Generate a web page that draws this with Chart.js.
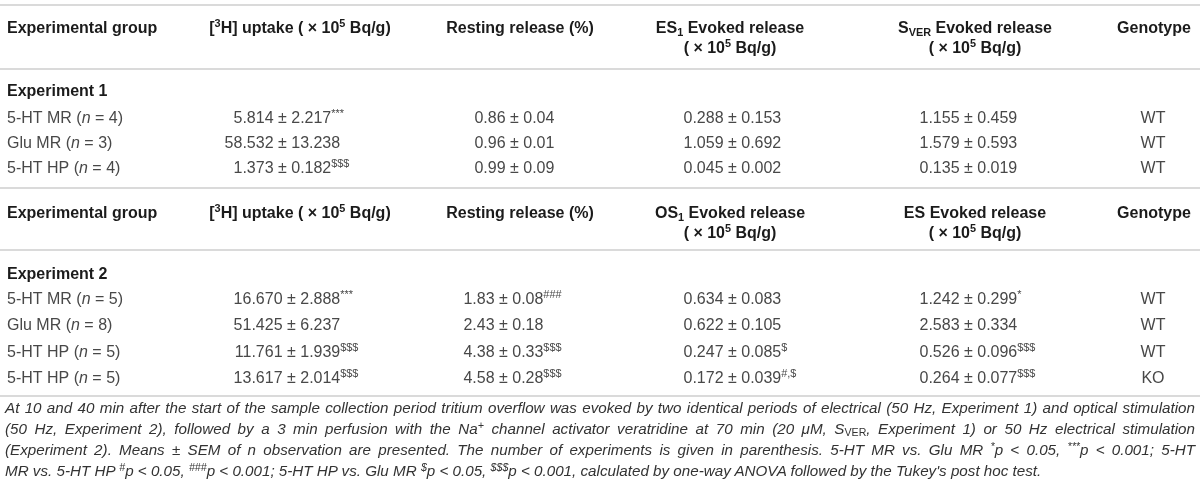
<!DOCTYPE html>
<html>
<head>
<meta charset="utf-8">
<script src="https://cdn.jsdelivr.net/npm/chart.js@4.4.1/dist/chart.umd.min.js"></script>
<style>
html, body { margin: 0; padding: 0; background: #fff; }
#wrap { position: relative; width: 1200px; height: 491px; overflow: hidden; }
#box { position: absolute; left: 0; top: 0; width: 1200px; height: 398px; }
#caption { position: absolute; left: 5px; top: 397px; width: 1190px;
  font-family: 'Liberation Sans', Arial, sans-serif; font-style: italic; font-size: 15.2px; color: #333; }
#caption div { height: 21px; line-height: 21px; text-align: justify; text-align-last: justify; }
#caption div.last { text-align-last: left; }
#caption sup { font-size: 70%; vertical-align: 0.45em; line-height: 0; }
#caption sub { font-size: 70%; vertical-align: -0.2em; line-height: 0; font-style: normal; }
</style>
</head>
<body>
<div id="wrap">
  <div id="box"><canvas id="myChart" width="1200" height="398"></canvas></div>
  <div id="caption">
    <div>At 10 and 40 min after the start of the sample collection period tritium overflow was evoked by two identical periods of electrical (50 Hz, Experiment 1) and optical stimulation</div>
    <div>(50 Hz, Experiment 2), followed by a 3 min perfusion with the Na<sup>+</sup> channel activator veratridine at 70 min (20 μM, S<sub>VER</sub>, Experiment 1) or 50 Hz electrical stimulation</div>
    <div>(Experiment 2). Means ± SEM of n observation are presented. The number of experiments is given in parenthesis. 5-HT MR vs. Glu MR <sup>*</sup>p &lt; 0.05, <sup>***</sup>p &lt; 0.001; 5-HT</div>
    <div class="last">MR vs. 5-HT HP <sup>#</sup>p &lt; 0.05, <sup>###</sup>p &lt; 0.001; 5-HT HP vs. Glu MR <sup>$</sup>p &lt; 0.05, <sup>$$$</sup>p &lt; 0.001, calculated by one-way ANOVA followed by the Tukey's post hoc test.</div>
  </div>
</div>
<script>
// table text ({^..} superscript, {_..} subscript, {/..} italic)
const sections = ['Experiment 1', 'Experiment 2'];
const headers1 = ['Experimental group', '[{^3}H] uptake ( × 10{^5} Bq/g)', 'Resting release (%)',
  'ES{_1} Evoked release\n( × 10{^5} Bq/g)', 'S{_VER} Evoked release\n( × 10{^5} Bq/g)', 'Genotype'];
const headers2 = ['Experimental group', '[{^3}H] uptake ( × 10{^5} Bq/g)', 'Resting release (%)',
  'OS{_1} Evoked release\n( × 10{^5} Bq/g)', 'ES Evoked release\n( × 10{^5} Bq/g)', 'Genotype'];

// experiment 1
const groups1 = ['5-HT MR ({/n} = 4)', 'Glu MR ({/n} = 3)', '5-HT HP ({/n} = 4)'];
const uptake1 = ['5.814 ± 2.217{^***}', '58.532 ± 13.238', '1.373 ± 0.182{^$$$}'];
const resting1 = ['0.86 ± 0.04', '0.96 ± 0.01', '0.99 ± 0.09'];
const es1Evoked1 = ['0.288 ± 0.153', '1.059 ± 0.692', '0.045 ± 0.002'];
const sverEvoked1 = ['1.155 ± 0.459', '1.579 ± 0.593', '0.135 ± 0.019'];
const genotype1 = ['WT', 'WT', 'WT'];

// experiment 2
const groups2 = ['5-HT MR ({/n} = 5)', 'Glu MR ({/n} = 8)', '5-HT HP ({/n} = 5)', '5-HT HP ({/n} = 5)'];
const uptake2 = ['16.670 ± 2.888{^***}', '51.425 ± 6.237', '11.761 ± 1.939{^$$$}', '13.617 ± 2.014{^$$$}'];
const resting2 = ['1.83 ± 0.08{^###}', '2.43 ± 0.18', '4.38 ± 0.33{^$$$}', '4.58 ± 0.28{^$$$}'];
const os1Evoked2 = ['0.634 ± 0.083', '0.622 ± 0.105', '0.247 ± 0.085{^$}', '0.172 ± 0.039{^#,$}'];
const esEvoked2 = ['1.242 ± 0.299{^*}', '2.583 ± 0.334', '0.526 ± 0.096{^$$$}', '0.264 ± 0.077{^$$$}'];
const genotype2 = ['WT', 'WT', 'WT', 'KO'];

// layout (scale units = px)
const HEAD_X = [7, 300, 520, 730, 975, 1154];
const HEAD_ALIGN = ['left', 'center', 'center', 'center', 'center', 'center'];
const HEAD_Y = [27, 212];
const SECTION_Y = [90, 273];
const ROWS1_Y = [117.5, 142.3, 167];
const ROWS2_Y = [298, 324.5, 351, 377.5];
const RULE_Y = [5, 69, 188, 250, 396];
const FONT = "'Liberation Sans', Arial, sans-serif";
const HEAD_STYLE = { bold: true, size: 16, color: '#1b1b1b', gap: 20 };
const BODY_STYLE = { bold: false, size: 16, color: '#484848', gap: 20 };

function parseRich(s){
    const out = [];
    let i = 0, buf = '';
    while(i < s.length){
        if(s[i] == '{' && '^_/'.indexOf(s[i+1]) >= 0){
            if(buf){ out.push({t: buf, m: ''}); buf = ''; }
            const end = s.indexOf('}', i);
            out.push({t: s.slice(i+2, end), m: s[i+1]});
            i = end + 1;
        }else{
            buf += s[i]; i++;
        }
    }
    if(buf) out.push({t: buf, m: ''});
    return out;
}

function segFont(seg, st){
    const small = seg.m == '^' || seg.m == '_';
    const sz = small ? st.size * 0.68 : st.size;
    return (seg.m == '/' ? 'italic ' : '') + (st.bold ? 'bold ' : '') + sz + 'px ' + FONT;
}

function drawRich(ctx, text, x, y, st, align){
    text.split('\n').forEach((line, k) => {
        const segs = parseRich(line);
        let total = 0;
        segs.forEach(sg => { ctx.font = segFont(sg, st); sg.w = ctx.measureText(sg.t).width; total += sg.w; });
        let x0 = x;
        if(align == 'center') x0 = x - total / 2;
        if(align == 'pm'){
            ctx.font = segFont({m: ''}, st);
            x0 = x - ctx.measureText(line.split('±')[0]).width;
        }
        const base = y + k * st.gap + st.size * 0.36;
        ctx.fillStyle = st.color;
        ctx.textBaseline = 'alphabetic';
        ctx.textAlign = 'left';
        segs.forEach(sg => {
            ctx.font = segFont(sg, st);
            let dy = 0;
            if(sg.m == '^') dy = -st.size * 0.38;
            if(sg.m == '_') dy = st.size * 0.22;
            ctx.fillText(sg.t, x0, base + dy);
            x0 += sg.w;
        });
    });
}

function cellSet(texts, colX, rowsY, style, align){
    return {
        data: texts.map((t, i) => ({x: colX, y: rowsY[i]})),
        texts: texts, cellStyle: style, align: align,
        pointRadius: 0, showLine: false
    };
}

const datasets = [];
[headers1, headers2].forEach((hd, b) => {
    hd.forEach((h, c) => datasets.push(cellSet([h], HEAD_X[c], [HEAD_Y[b]], HEAD_STYLE, HEAD_ALIGN[c])));
});
datasets.push(cellSet(sections, 7, SECTION_Y, HEAD_STYLE, 'left'));
datasets.push(cellSet(groups1, 7, ROWS1_Y, BODY_STYLE, 'left'));
datasets.push(cellSet(uptake1, 278, ROWS1_Y, BODY_STYLE, 'pm'));
datasets.push(cellSet(resting1, 510, ROWS1_Y, BODY_STYLE, 'pm'));
datasets.push(cellSet(es1Evoked1, 728, ROWS1_Y, BODY_STYLE, 'pm'));
datasets.push(cellSet(sverEvoked1, 964, ROWS1_Y, BODY_STYLE, 'pm'));
datasets.push(cellSet(genotype1, 1153, ROWS1_Y, BODY_STYLE, 'center'));
datasets.push(cellSet(groups2, 7, ROWS2_Y, BODY_STYLE, 'left'));
datasets.push(cellSet(uptake2, 287, ROWS2_Y, BODY_STYLE, 'pm'));
datasets.push(cellSet(resting2, 499, ROWS2_Y, BODY_STYLE, 'pm'));
datasets.push(cellSet(os1Evoked2, 728, ROWS2_Y, BODY_STYLE, 'pm'));
datasets.push(cellSet(esEvoked2, 964, ROWS2_Y, BODY_STYLE, 'pm'));
datasets.push(cellSet(genotype2, 1153, ROWS2_Y, BODY_STYLE, 'center'));

const tablePlugin = {
    id: 'tableCells',
    afterDatasetsDraw(chart){
        const ctx = chart.ctx, xs = chart.scales.x, ys = chart.scales.y;
        ctx.save();
        ctx.strokeStyle = '#dadada';
        ctx.lineWidth = 2;
        RULE_Y.forEach(v => {
            const y = Math.round(ys.getPixelForValue(v));
            ctx.beginPath();
            ctx.moveTo(xs.getPixelForValue(0), y);
            ctx.lineTo(xs.getPixelForValue(1200), y);
            ctx.stroke();
        });
        chart.data.datasets.forEach((ds, i) => {
            chart.getDatasetMeta(i).data.forEach((pt, j) => {
                drawRich(ctx, ds.texts[j], pt.x, pt.y, ds.cellStyle, ds.align);
            });
        });
        ctx.restore();
    }
};

var ctx = document.getElementById('myChart').getContext('2d');
var myChart = new Chart(ctx, {
    type: 'scatter',
    data: { datasets: datasets },
    options: {
        responsive: false,
        animation: false,
        events: [],
        layout: { padding: 0 },
        plugins: { legend: { display: false }, tooltip: { enabled: false } },
        scales: {
            x: { type: 'linear', min: 0, max: 1200, display: false },
            y: { type: 'linear', min: 0, max: 398, reverse: true, display: false }
        }
    },
    plugins: [tablePlugin]
});

// keep each caption line on one row: shrink a line only if it would wrap
document.querySelectorAll('#caption div').forEach(d => {
    d.style.whiteSpace = 'nowrap';
    d.style.textAlignLast = 'left';
    const r = document.createRange();
    r.selectNodeContents(d);
    const w = r.getBoundingClientRect().width;
    if(w > 1188) d.style.fontSize = (15.2 * 1188 / w).toFixed(2) + 'px';
    d.style.whiteSpace = '';
    d.style.textAlignLast = '';
});
</script>
</body>
</html>
